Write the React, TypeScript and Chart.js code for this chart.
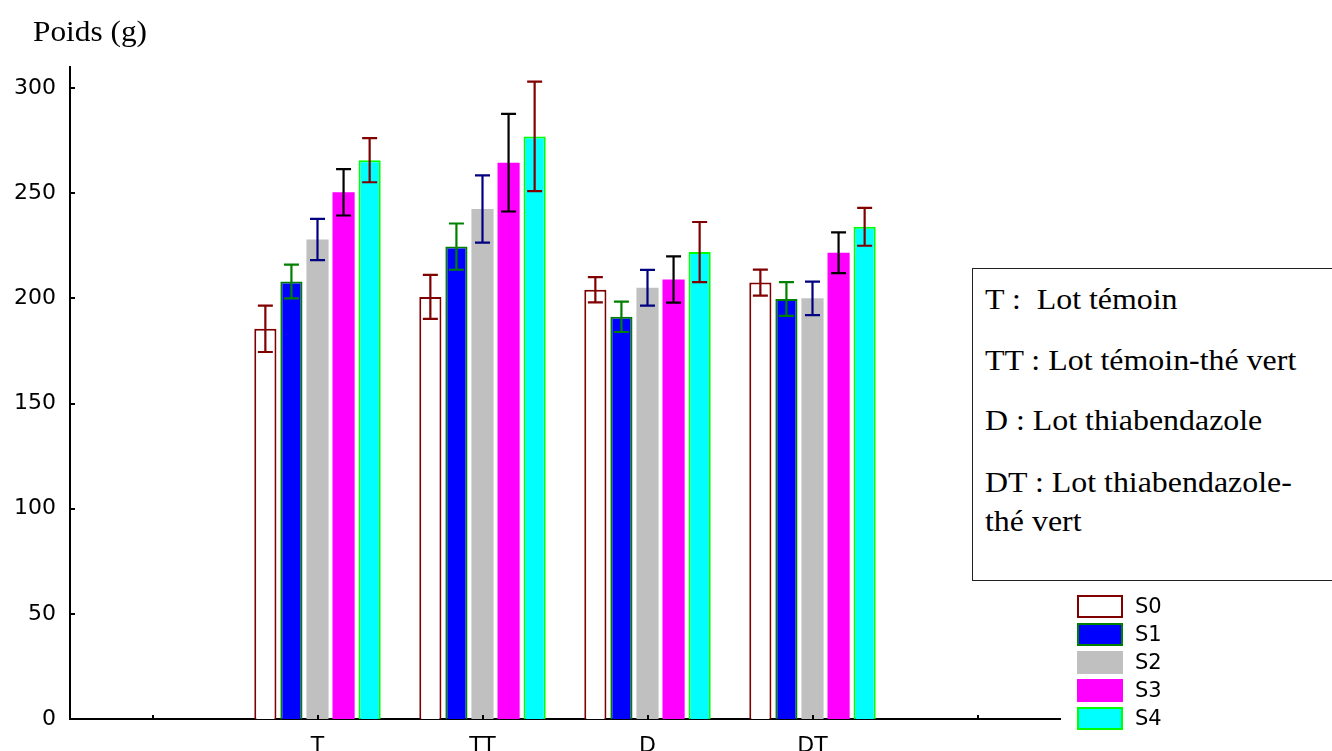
import React, { useEffect, useRef } from 'react';
import { Chart, registerables } from 'chart.js';

Chart.register(...registerables);

// ---- Data ----
const categories = ['', 'T', 'TT', 'D', 'DT', ''];
const seriesNames = ['S0', 'S1', 'S2', 'S3', 'S4'];
const s0Values = [null, 185.5, 200.7, 204.1, 207.5, null];
const s0Errors = [null, 11, 10.5, 6, 6.2, null];
const s1Values = [null, 208, 224.6, 191.2, 199.7, null];
const s1Errors = [null, 8, 11, 7.2, 8, null];
const s2Values = [null, 228, 242.5, 205, 200, null];
const s2Errors = [null, 9.8, 16, 8.5, 8, null];
const s3Values = [null, 250.4, 264.5, 209, 221.7, null];
const s3Errors = [null, 11, 23.2, 11, 9.7, null];
const s4Values = [null, 265.7, 277, 222, 234, null];
const s4Errors = [null, 10.5, 26, 14.3, 9, null];
const yTickValues = [0, 50, 100, 150, 200, 250, 300];
const yAxisTitle = 'Poids (g)';
const definitionLines = [
  'T :  Lot témoin',
  'TT : Lot témoin-thé vert',
  'D : Lot thiabendazole',
  'DT : Lot thiabendazole-',
  'thé vert',
];

// ---- Styles ----
const fillColors = ['#ffffff', '#0000ff', '#c0c0c0', '#ff00ff', '#00ffff'];
const borderColors = ['#800000', '#008000', '#c0c0c0', '#ff00ff', '#00ff00'];
const borderWidths = [2, 2, 0, 0, 2];
const errorColors = ['#800000', '#008000', '#000080', '#000000', '#800000'];
const definitionBaselines = [310, 371, 431, 493, 532];

const SANS = '"DejaVu Sans", "Liberation Sans", Arial, sans-serif';
const SERIF = '"Liberation Serif", "Times New Roman", serif';

const errorBarPlugin = {
  id: 'errorBars',
  afterDatasetsDraw(chart: any) {
    const ctx = chart.ctx;
    const ys = chart.scales.y;
    chart.data.datasets.forEach((ds: any, i: number) => {
      const meta = chart.getDatasetMeta(i);
      meta.data.forEach((bar: any, j: number) => {
        const v = ds.data[j];
        const e = ds.errors[j];
        if (v == null || e == null) return;
        const x = bar.x;
        const top = ys.getPixelForValue(v + e);
        const bot = ys.getPixelForValue(v - e);
        ctx.save();
        ctx.strokeStyle = ds.errorColor;
        ctx.lineWidth = 2.2;
        ctx.beginPath();
        ctx.moveTo(x, top);
        ctx.lineTo(x, bot);
        ctx.moveTo(x - 7.5, top);
        ctx.lineTo(x + 7.5, top);
        ctx.moveTo(x - 7.5, bot);
        ctx.lineTo(x + 7.5, bot);
        ctx.stroke();
        ctx.restore();
      });
    });
  },
};

const innerTicksPlugin = {
  id: 'innerTicks',
  afterDraw(chart: any) {
    const ctx = chart.ctx;
    const area = chart.chartArea;
    const xs = chart.scales.x;
    const ys = chart.scales.y;
    ctx.save();
    ctx.strokeStyle = '#000';
    ctx.lineWidth = 2;
    ctx.beginPath();
    xs.ticks.forEach((_t: any, i: number) => {
      const px = Math.round(xs.getPixelForTick(i));
      ctx.moveTo(px, area.bottom);
      ctx.lineTo(px, area.bottom - 4);
    });
    ys.ticks.forEach((_t: any, i: number) => {
      const py = Math.round(ys.getPixelForTick(i));
      ctx.moveTo(area.left, py);
      ctx.lineTo(area.left + 5, py);
    });
    ctx.stroke();
    ctx.restore();
  },
};

const boxLegendPlugin = {
  id: 'boxLegend',
  afterDraw(chart: any) {
    const ctx = chart.ctx;
    const area = chart.chartArea;
    ctx.save();
    chart.data.datasets.forEach((ds: any, i: number) => {
      const x = area.right + 17;
      const y = area.bottom - 124 + i * 28;
      const w = 46;
      const h = 23;
      ctx.fillStyle = ds.backgroundColor;
      ctx.fillRect(x, y, w, h);
      if (ds.borderWidth > 0) {
        ctx.strokeStyle = ds.borderColor;
        ctx.lineWidth = 2;
        ctx.strokeRect(x + 1, y + 1, w - 2, h - 2);
      }
      ctx.fillStyle = '#000';
      ctx.font = '21px ' + SANS;
      ctx.textBaseline = 'middle';
      ctx.textAlign = 'left';
      ctx.fillText(ds.label, x + 58, y + h / 2 + 1);
    });
    ctx.restore();
  },
};

export default function App() {
  const canvasRef = useRef<HTMLCanvasElement | null>(null);

  useEffect(() => {
    if (!canvasRef.current) return;
    const values = [s0Values, s1Values, s2Values, s3Values, s4Values];
    const errors = [s0Errors, s1Errors, s2Errors, s3Errors, s4Errors];
    const chart = new Chart(canvasRef.current, {
      type: 'bar',
      data: {
        labels: categories,
        datasets: seriesNames.map((name, i) => ({
          label: name,
          data: values[i],
          errors: errors[i],
          errorColor: errorColors[i],
          backgroundColor: fillColors[i],
          borderColor: borderColors[i],
          borderWidth: borderWidths[i],
          categoryPercentage: 0.79,
          barPercentage: 0.85,
        })) as any,
      },
      options: {
        animation: false,
        responsive: false,
        devicePixelRatio: 1,
        layout: { padding: { top: 67, right: 272, bottom: 0, left: 0 } },
        plugins: {
          legend: { display: false },
          tooltip: { enabled: false },
          title: { display: false },
        },
        scales: {
          x: {
            type: 'category',
            offset: true,
            grid: { display: false, drawTicks: false },
            border: { display: true, color: '#000', width: 2 },
            ticks: {
              color: '#000',
              font: { family: SANS, size: 22 },
              padding: 14,
              autoSkip: false,
              maxRotation: 0,
            },
            afterFit: (s: any) => {
              s.height = 32;
            },
          },
          y: {
            min: 0,
            max: 310,
            grid: { display: false, drawTicks: false },
            border: { display: true, color: '#000', width: 2 },
            ticks: {
              color: '#000',
              font: { family: SANS, size: 22 },
              padding: 14,
            },
            afterBuildTicks: (s: any) => {
              s.ticks = yTickValues.map((v) => ({ value: v }));
            },
            afterFit: (s: any) => {
              s.width = 70;
            },
          },
        },
      } as any,
      plugins: [errorBarPlugin, innerTicksPlugin, boxLegendPlugin],
    });
    return () => chart.destroy();
  }, []);

  const serifFont = 29;
  const ascentOffset = 0.8375 * serifFont;

  return (
    <div
      style={{
        position: 'fixed',
        left: 0,
        top: 0,
        width: 1332,
        height: 751,
        overflow: 'hidden',
        background: '#fff',
      }}
    >
      <canvas
        ref={canvasRef}
        width={1332}
        height={751}
        style={{ position: 'absolute', left: 0, top: 0, width: 1332, height: 751 }}
      />
      <div
        style={{
          position: 'absolute',
          left: 33,
          top: 41 - ascentOffset,
          fontFamily: SERIF,
          fontSize: serifFont,
          lineHeight: serifFont + 'px',
          whiteSpace: 'pre',
          color: '#000',
          transform: 'scaleX(1.08)',
          transformOrigin: 'left top',
        }}
      >
        {yAxisTitle}
      </div>
      <div
        style={{
          position: 'absolute',
          left: 972,
          top: 268,
          width: 420,
          height: 313,
          boxSizing: 'border-box',
          border: '1.5px solid #222',
          background: '#fff',
        }}
      >
        {definitionLines.map((line, i) => (
          <div
            key={i}
            style={{
              position: 'absolute',
              left: 12,
              top: definitionBaselines[i] - 268 - 1.5 - ascentOffset,
              fontFamily: SERIF,
              fontSize: serifFont,
              lineHeight: serifFont + 'px',
              whiteSpace: 'pre',
              color: '#000',
              transform: 'scaleX(1.1)',
              transformOrigin: 'left top',
            }}
          >
            {line}
          </div>
        ))}
      </div>
    </div>
  );
}
